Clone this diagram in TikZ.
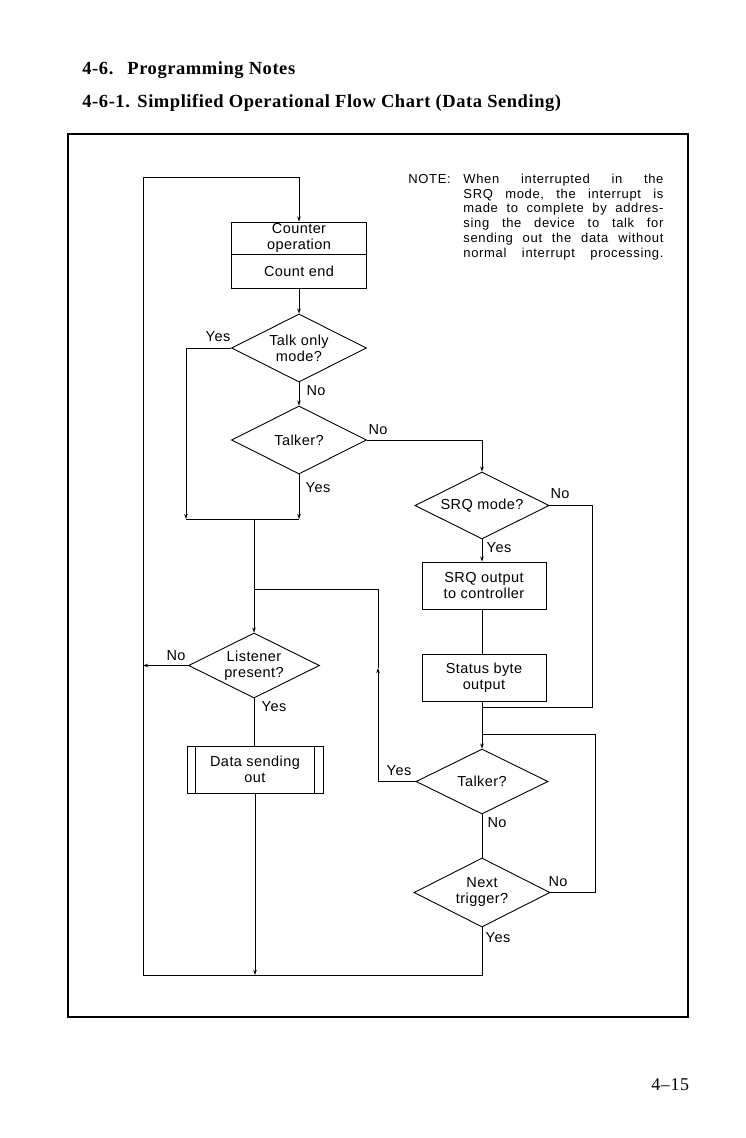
\documentclass[tikz,border=0pt]{standalone}
\usepackage{fontspec}
\usetikzlibrary{shapes.geometric,arrows.meta,calc}
\newfontfamily\flowfont[LetterSpace=3]{Liberation Sans}
\newfontfamily\notefont[LetterSpace=5]{Liberation Sans}
\newfontfamily\headfont[LetterSpace=3]{Liberation Serif}
\newcommand\flowtxt{\flowfont\fontsize{14.5}{16}\selectfont}
\newcommand\notetxt{\notefont\fontsize{13}{14.8}\selectfont}
\newcommand\headtxt{\headfont\bfseries\fontsize{18.5}{22}\selectfont}
\newcommand\pagetxt{\headfont\fontsize{18}{22}\selectfont}
\newcommand\nl[1]{\makebox[200pt][s]{#1}\\}
\begin{document}
\begin{tikzpicture}[x=1pt,y=-1pt,
  line width=0.9pt,
  every node/.style={inner sep=0pt},
  procbox/.style={draw, rectangle, align=center, font=\flowtxt},
  decision/.style={draw, diamond, shape aspect=2, align=center, font=\flowtxt},
  lbl/.style={font=\flowtxt},
  arr/.style={-{Stealth[length=5pt,width=3.5pt]}},
  frame/.style={line width=1.6pt}]
\useasboundingbox (0,0) rectangle (746,1138);
% headings
\node[anchor=base west, font=\headtxt] (h1a) at (82,74) {4-6.};
\node[anchor=base west, font=\headtxt] (h1b) at (127,74) {Programming Notes};
\node[anchor=base west, font=\headtxt] (h2a) at (82,107) {4-6-1.};
\node[anchor=base west, font=\headtxt] (h2b) at (137,107) {Simplified Operational Flow Chart (Data Sending)};
\node[anchor=base west, font=\pagetxt] (pg) at (651,1090) {4–15};
% frame
\draw[frame] (68,134) rectangle (688,1017);
% note
\node[anchor=base west, font=\notetxt] (notelbl) at (408,183) {NOTE:};
\node[anchor=north west, font=\notetxt, text width=200pt, align=left] (note) at (463,173.5)
 {\nl{When \hfill interrupted \hfill in \hfill the}\nl{SRQ \hfill mode, \hfill the \hfill interrupt \hfill is}\nl{made \hfill to \hfill complete \hfill by \hfill addres-}\nl{sing \hfill the \hfill device \hfill to \hfill talk \hfill for}\nl{sending \hfill out \hfill the \hfill data \hfill without}\makebox[200pt][s]{normal \hfill interrupt \hfill processing.}};
% nodes
\node[procbox, minimum width=135pt, minimum height=32pt] (cop) at (299,238) {Counter\\operation};
\node[procbox, minimum width=135pt, minimum height=34pt] (cend) at (299,271) {Count end};
\node[decision, minimum width=135pt, minimum height=68pt] (talkonly) at (299,348) {Talk only\\mode?};
\node[decision, minimum width=135pt, minimum height=68pt] (talker1) at (299,440) {Talker?};
\node[decision, minimum width=134pt, minimum height=67pt] (srq) at (482,505.5) {SRQ mode?};
\node[procbox, minimum width=124pt, minimum height=47pt] (srqout) at (484,585.5) {SRQ output\\to controller};
\node[procbox, minimum width=124pt, minimum height=47pt] (status) at (484,677.5) {Status byte\\output};
\node[decision, minimum width=131pt, minimum height=65pt] (listener) at (254,665.5) {Listener\\present?};
\node[procbox, minimum width=136pt, minimum height=47pt] (datasend) at (255,769.5) {Data sending\\out};
\node[decision, minimum width=132pt, minimum height=65pt] (talker2) at (482,781.5) {Talker?};
\node[decision, minimum width=136pt, minimum height=69pt] (nexttrig) at (482,892.5) {Next\\trigger?};
\draw ([xshift=9pt]datasend.north west) -- ([xshift=9pt]datasend.south west);
\draw ([xshift=-9pt]datasend.north east) -- ([xshift=-9pt]datasend.south east);
% coordinates
\coordinate (bl) at (143,975);
\coordinate (bj) at (255,975);
\coordinate (tl) at (143,177);
\coordinate (ya) at (186,519);
\coordinate (yb) at (299,519);
\coordinate (yj) at (254,519);
\coordinate (sn) at (592,707);
\coordinate (sj) at (482,707);
\coordinate (nn) at (595,734);
\coordinate (nj) at (482,734);
\coordinate (tmid) at (378,668);
\coordinate (ty) at (378,589);
\coordinate (tj) at (254,589);
\coordinate (ln) at (143,665.5);
% connectors
\draw[arr] (nexttrig.south) |- (bl) -- (tl) -| (cop.north);
\draw[arr] (datasend.south) -- (bj);
\draw[arr] (cend.south) -- (talkonly.north);
\draw[arr] (talkonly.south) -- (talker1.north);
\draw[arr] (talkonly.west) -| (ya);
\draw[arr] (talker1.south) -- (yb);
\draw (ya) -- (yb);
\draw[arr] (yj) -- (listener.north);
\draw[arr] (talker1.east) -| (srq.north);
\draw[arr] (srq.south) -- (srq.south |- srqout.north);
\draw (srq.south |- srqout.south) -- (srq.south |- status.north);
\draw[arr] (srq.south |- status.south) -- (talker2.north);
\draw (srq.east) -| (sn) -- (sj);
\draw (nexttrig.east) -| (nn) -- (nj);
\draw (talker2.south) -- (nexttrig.north);
\draw[arr] (talker2.west) -| (tmid);
\draw (tmid) -- (ty) -- (tj);
\draw (listener.south) -- (listener.south |- datasend.north);
\draw[arr] (listener.west) -- (ln);
% labels
\node[lbl] (l1) at (218,337) {Yes};
\node[lbl] (l2) at (316,391) {No};
\node[lbl] (l3) at (378,430) {No};
\node[lbl] (l4) at (318,488) {Yes};
\node[lbl] (l5) at (560,494) {No};
\node[lbl] (l6) at (499,548) {Yes};
\node[lbl] (l7) at (176,656) {No};
\node[lbl] (l8) at (274,707) {Yes};
\node[lbl] (l9) at (399,771) {Yes};
\node[lbl] (l10) at (497,823) {No};
\node[lbl] (l11) at (558,882) {No};
\node[lbl] (l12) at (498,938) {Yes};
\end{tikzpicture}
\end{document}
